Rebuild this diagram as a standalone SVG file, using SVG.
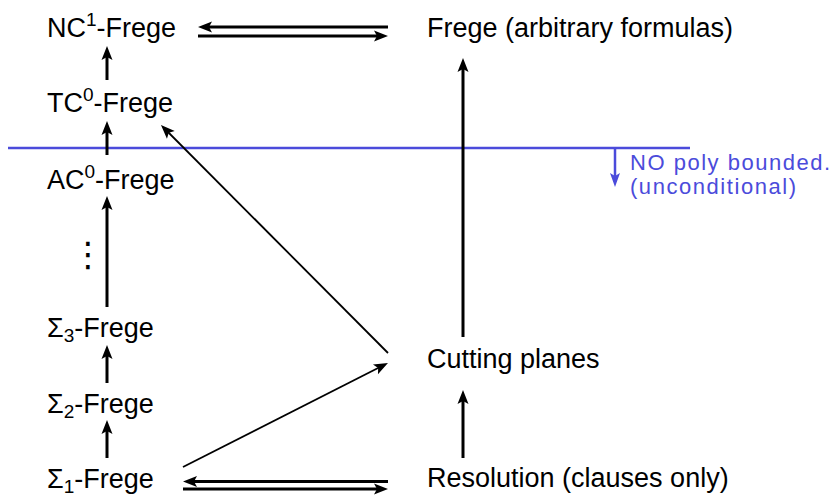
<svg xmlns="http://www.w3.org/2000/svg" width="834" height="497" viewBox="0 0 834 497">
<style>
text{font-family:"Liberation Sans",Arial,sans-serif;font-size:27px;fill:#000}
.sm{font-size:19px}
.blue{fill:#4b4bdb;font-size:22px}
.thick{stroke:#000;stroke-width:3;fill:none}
.thin{stroke:#000;stroke-width:1.8;fill:none}
</style>
<defs>
<marker id="ah" markerUnits="userSpaceOnUse" viewBox="-15 -7 16 14" markerWidth="16" markerHeight="14" refX="-6" refY="0" orient="auto">
<path d="M0,0 L-14,-5.5 L-11,0 L-14,5.5 Z" fill="#000"/>
</marker>
<marker id="as" markerUnits="userSpaceOnUse" viewBox="-15 -7 16 14" markerWidth="16" markerHeight="14" refX="-5" refY="0" orient="auto">
<path d="M0,0 L-14,-5.5 L-11,0 L-14,5.5 Z" fill="#000"/>
</marker>
<marker id="ab" markerUnits="userSpaceOnUse" viewBox="-15 -7 16 14" markerWidth="16" markerHeight="14" refX="-5" refY="0" orient="auto">
<path d="M0,0 L-14,-5 L-11,0 L-14,5 Z" fill="#4b4bdb"/>
</marker>
</defs>
<g id="nodes">
<g id="nc1"><text x="47" y="37">NC<tspan class="sm" dy="-11">1</tspan><tspan dy="11">-Frege</tspan></text></g>
<g id="tc0"><text x="47" y="112">TC<tspan class="sm" dy="-11">0</tspan><tspan dy="11">-Frege</tspan></text></g>
<g id="ac0"><text x="47" y="189">AC<tspan class="sm" dy="-11">0</tspan><tspan dy="11">-Frege</tspan></text></g>
<g id="dots"><text x="88" y="266" text-anchor="middle" style="font-family:'DejaVu Sans',sans-serif;font-size:34px">⋮</text></g>
<g id="s3"><text x="47" y="337">Σ<tspan class="sm" dy="5">3</tspan><tspan dy="-5">-Frege</tspan></text></g>
<g id="s2"><text x="47" y="413">Σ<tspan class="sm" dy="5">2</tspan><tspan dy="-5">-Frege</tspan></text></g>
<g id="s1"><text x="47" y="488">Σ<tspan class="sm" dy="5">1</tspan><tspan dy="-5">-Frege</tspan></text></g>
<g id="frege"><text x="427" y="37">Frege (arbitrary formulas)</text></g>
<g id="cp"><text x="427" y="368">Cutting planes</text></g>
<g id="res"><text x="427" y="487">Resolution (clauses only)</text></g>
<g id="note"><text class="blue" x="630" y="170" textLength="200" lengthAdjust="spacing">NO poly bounded.</text><text class="blue" x="630" y="194" textLength="166" lengthAdjust="spacing">(unconditional)</text></g>
</g>
<g id="connectors">
<line x1="8" y1="148" x2="690" y2="148" stroke="#4b4bdb" stroke-width="2.5"/>
<line x1="615" y1="148" x2="615" y2="182" stroke="#4b4bdb" stroke-width="2.5" marker-end="url(#ab)"/>
<line class="thick" x1="107" y1="80" x2="107" y2="52" marker-end="url(#ah)"/>
<line class="thick" x1="107" y1="155" x2="107" y2="127" marker-end="url(#ah)"/>
<line class="thick" x1="107" y1="307" x2="107" y2="202" marker-end="url(#ah)"/>
<line class="thick" x1="107" y1="383" x2="107" y2="351" marker-end="url(#ah)"/>
<line class="thick" x1="107" y1="458" x2="107" y2="426" marker-end="url(#ah)"/>
<line class="thick" x1="463" y1="337" x2="463" y2="64" marker-end="url(#ah)"/>
<line class="thick" x1="463" y1="458" x2="463" y2="396" marker-end="url(#ah)"/>
<line class="thin" x1="183" y1="467" x2="383.5" y2="365.3" marker-end="url(#as)"/>
<line class="thin" x1="388" y1="353" x2="164.5" y2="128.5" marker-end="url(#as)"/>
<line class="thick" x1="388" y1="27" x2="204" y2="27" marker-end="url(#ah)"/>
<line class="thick" x1="198" y1="36" x2="382" y2="36" marker-end="url(#ah)"/>
<line class="thick" x1="388" y1="481.5" x2="189" y2="481.5" marker-end="url(#ah)"/>
<line class="thick" x1="183" y1="489" x2="382" y2="489" marker-end="url(#ah)"/>
</g>
</svg>
